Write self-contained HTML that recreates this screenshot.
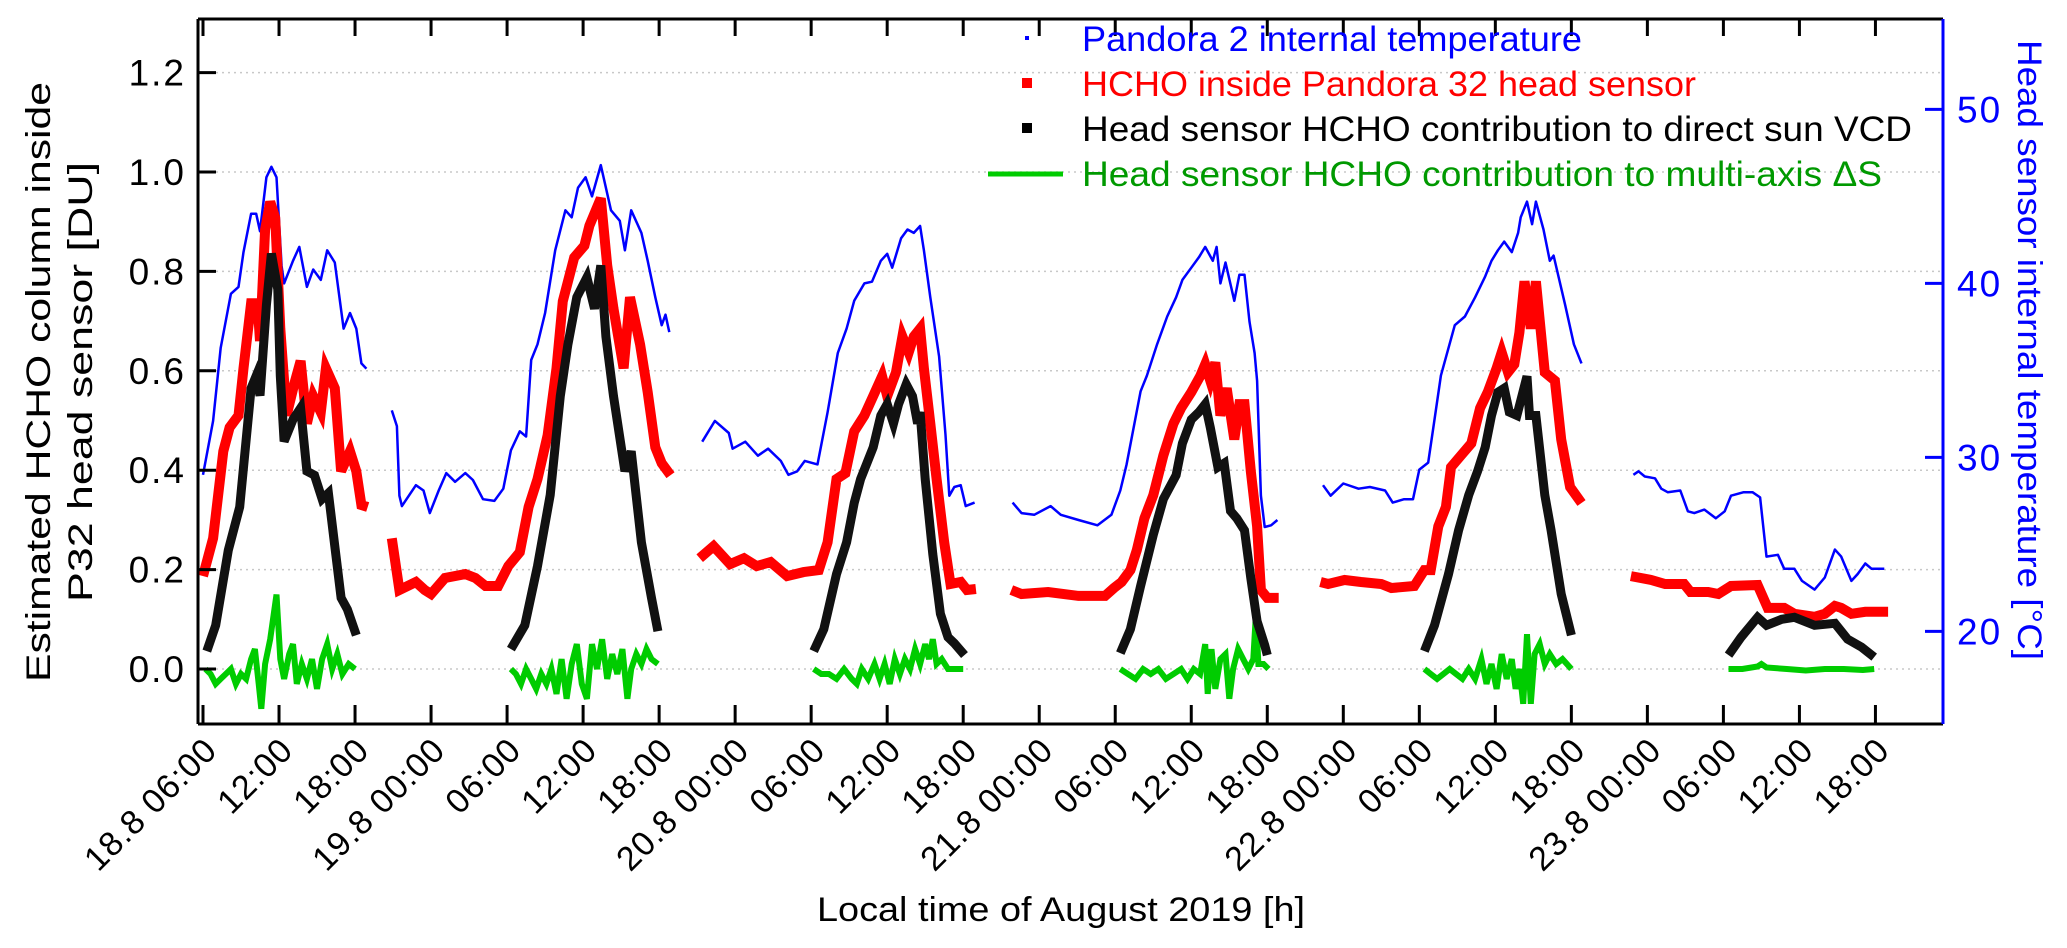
<!DOCTYPE html>
<html><head><meta charset="utf-8">
<style>
html,body{margin:0;padding:0;background:#fff;}
svg{display:block;font-family:"Liberation Sans",sans-serif;}
</style></head>
<body>
<svg id="chart" width="2067" height="948" viewBox="0 0 2067 948" xmlns="http://www.w3.org/2000/svg">
<g id="grid"></g>
<g id="series"></g>
<g id="axes"></g>
<g id="legend">
  <rect x="1025" y="36" width="4" height="4" fill="#0000ff"/>
  <text x="1082" y="51" font-size="35" fill="#0000ff" textLength="500" lengthAdjust="spacingAndGlyphs">Pandora 2 internal temperature</text>
  <rect x="1022" y="78" width="10" height="10" fill="#ff0000"/>
  <text x="1082" y="96" font-size="35" fill="#ff0000" textLength="614" lengthAdjust="spacingAndGlyphs">HCHO inside Pandora 32 head sensor</text>
  <rect x="1022" y="123" width="10" height="10" fill="#000"/>
  <text x="1082" y="141" font-size="35" fill="#000" textLength="830" lengthAdjust="spacingAndGlyphs">Head sensor HCHO contribution to direct sun VCD</text>
  <line x1="988" y1="174" x2="1063" y2="174" stroke="#00cc00" stroke-width="5"/>
  <text x="1082" y="186" font-size="35" fill="#009900" textLength="800" lengthAdjust="spacingAndGlyphs">Head sensor HCHO contribution to multi-axis ΔS</text>
</g>
<text transform="translate(50,382) rotate(-90)" text-anchor="middle" font-size="34" fill="#000" textLength="600" lengthAdjust="spacingAndGlyphs">Estimated HCHO column inside</text>
<text transform="translate(92,382) rotate(-90)" text-anchor="middle" font-size="34" fill="#000" textLength="440" lengthAdjust="spacingAndGlyphs">P32 head sensor [DU]</text>
<text transform="translate(2018,350) rotate(90)" text-anchor="middle" font-size="34" fill="#0000ff" textLength="620" lengthAdjust="spacingAndGlyphs">Head sensor internal temperature [°C]</text>
<text x="1061" y="921" text-anchor="middle" font-size="34" fill="#000" textLength="488" lengthAdjust="spacingAndGlyphs">Local time of August 2019 [h]</text>
</svg>
<script>
// ---- data ----
const leftTicks = [0.0, 0.2, 0.4, 0.6, 0.8, 1.0, 1.2];
const rightTicks = [20, 30, 40, 50];
const xTickHours = [6,12,18,24,30,36,42,48,54,60,66,72,78,84,90,96,102,108,114,120,126,132,138];
const xTickLabels = ["18.8 06:00","12:00","18:00","19.8 00:00","06:00","12:00","18:00","20.8 00:00","06:00","12:00","18:00","21.8 00:00","06:00","12:00","18:00","22.8 00:00","06:00","12:00","18:00","23.8 00:00","06:00","12:00","18:00"];

// temperature (°C); null = data gap
const tempHours = [6,6.8,7.4,8.2,8.8,9.2,9.8,10.2,10.5,11,11.4,11.8,12.2,12.4,13.1,13.6,14.2,14.7,15.3,15.8,16.4,17.1,17.6,18.1,18.5,18.9,null,
20.9,21.3,21.5,21.7,22.8,23.4,23.9,24.6,25.2,25.9,26.7,27.3,28.1,29,29.7,30.3,31,31.5,31.9,32.4,33,33.8,34.6,35.1,35.6,36.2,36.7,37.4,38.2,38.9,39.3,39.8,40.6,41.1,41.7,42.2,42.5,42.8,null,
45.4,46.4,47.5,47.8,48.8,49.8,50.6,51.6,52.2,52.9,53.5,54.5,55.3,56.1,56.8,57.4,58.2,58.8,59.5,60,60.4,61.1,61.6,62.1,62.6,62.9,63.4,64.1,64.6,64.9,65.3,65.8,66.2,66.9,null,
69.9,70.6,71.6,72.9,73.7,75.1,76.6,77.7,78.4,78.9,80,80.5,81.3,82.1,82.8,83.3,84,84.6,85.1,85.7,86,86.3,86.7,87.4,87.8,88.2,88.6,89,89.2,89.5,89.8,90.3,90.8,null,
94.4,95,96,97.2,98.1,99.3,99.9,100.8,101.5,102,102.7,103.1,103.7,104.8,105.6,106.4,107.2,107.7,108.2,108.7,109.3,109.8,110,110.5,110.9,111.2,111.8,112.3,112.6,113.5,114.2,114.8,null,
118.9,119.3,119.8,120.6,121.1,121.6,122.6,123.2,123.7,124.5,125.4,126.1,126.6,127.6,128.3,128.9,129.4,130.3,130.8,131.6,132.2,133.2,134,134.8,135.3,136.1,136.6,137.2,137.7,138.7];
const tempC = [29.0,32.1,36.3,39.4,39.8,41.8,44.0,44.0,43.0,46.1,46.7,46.1,41.0,40.0,41.3,42.1,39.8,40.8,40.2,41.9,41.2,37.4,38.3,37.4,35.4,35.1,null,
32.7,31.8,27.8,27.2,28.4,28.1,26.8,28.1,29.1,28.6,29.1,28.7,27.6,27.5,28.2,30.4,31.5,31.2,35.6,36.5,38.3,41.9,44.2,43.8,45.5,46.1,45.0,46.8,44.2,43.6,41.9,44.2,42.9,41.3,39.2,37.6,38.2,37.2,null,
30.9,32.1,31.4,30.5,30.9,30.1,30.5,29.8,29.0,29.2,29.8,29.6,32.6,36.0,37.4,39.0,40.0,40.1,41.3,41.7,40.9,42.6,43.1,42.9,43.3,41.9,39.2,35.8,31.3,27.8,28.3,28.4,27.2,27.4,null,
27.4,26.8,26.7,27.2,26.7,26.4,26.1,26.7,28.1,29.6,33.8,34.7,36.5,38.1,39.2,40.2,40.9,41.5,42.1,41.3,42.1,40.0,41.2,39.0,40.5,40.5,37.8,36.0,34.4,27.8,26.0,26.1,26.4,null,
28.4,27.8,28.5,28.2,28.3,28.1,27.4,27.6,27.6,29.3,29.7,31.7,34.7,37.6,38.1,39.2,40.4,41.3,41.9,42.4,41.8,42.9,43.8,44.7,43.4,44.7,43.1,41.3,41.6,38.8,36.5,35.4,null,
29.0,29.2,28.9,28.8,28.2,28.0,28.1,26.9,26.8,27.0,26.5,26.9,27.8,28.0,28.0,27.7,24.3,24.4,23.6,23.6,22.9,22.4,23.1,24.7,24.3,22.9,23.3,23.9,23.6,23.6];

// HCHO inside head sensor (DU)
const insideHours = [6,6.8,7.6,8.1,8.8,9.2,9.8,10.3,10.5,10.9,11.3,11.7,12.1,12.6,13.2,13.7,14.2,14.7,15.3,15.7,16.4,16.9,17.6,18.1,18.5,19,null,
20.9,21.5,22.8,23.5,24,25.1,26.7,27.5,28.3,29.3,30.1,31,31.7,32.4,33.2,33.9,34.4,35.3,36.1,36.5,37.4,37.9,38.4,39.2,39.7,40.5,41.1,41.7,42.2,42.9,null,
45.2,46.3,47.6,48.7,49.7,50.8,52.1,53.4,54.6,55.3,56,56.7,57.4,58.2,58.9,59.6,60,60.7,61.2,61.7,62.1,62.6,62.9,63.4,63.9,64.5,65,65.8,66.3,67,null,
69.8,70.6,72.7,75.1,77.2,77.9,78.5,79.2,79.7,80.3,81,81.8,82.6,83.2,84,84.7,85.1,85.5,85.9,86.3,86.8,87.4,87.8,88.2,88.7,89.2,89.5,90,90.9,null,
94.2,94.8,96.1,97.4,99,99.8,101.6,102.4,102.9,103.5,104.1,104.5,105.3,106.1,106.8,107.4,108.1,108.5,109,109.5,109.9,110.3,110.8,111.2,111.9,112.7,113.2,113.9,114.8,null,
118.7,120.3,121.4,122.9,123.4,124.8,125.6,126.6,128.7,129.5,130.8,131.6,133.2,134,134.8,135.3,136.1,137.2,139];
const insideDU = [0.187,0.263,0.438,0.486,0.51,0.605,0.736,0.736,0.66,0.884,0.94,0.908,0.685,0.51,0.573,0.62,0.494,0.549,0.517,0.605,0.565,0.398,0.438,0.398,0.33,0.326,null,
0.263,0.159,0.175,0.159,0.151,0.183,0.191,0.183,0.167,0.167,0.207,0.235,0.326,0.382,0.47,0.605,0.74,0.828,0.852,0.892,0.947,0.812,0.725,0.605,0.748,0.653,0.557,0.446,0.414,0.39,null,
0.223,0.247,0.211,0.223,0.207,0.215,0.187,0.195,0.199,0.255,0.382,0.394,0.478,0.51,0.549,0.589,0.549,0.597,0.669,0.637,0.669,0.685,0.605,0.494,0.382,0.255,0.171,0.175,0.159,0.161,null,
0.159,0.151,0.155,0.147,0.147,0.163,0.175,0.199,0.239,0.303,0.35,0.43,0.494,0.525,0.557,0.589,0.613,0.58,0.617,0.51,0.565,0.462,0.533,0.533,0.398,0.287,0.159,0.143,0.143,null,
0.175,0.171,0.179,0.175,0.171,0.163,0.167,0.199,0.199,0.287,0.326,0.406,0.43,0.454,0.525,0.557,0.605,0.637,0.597,0.613,0.677,0.78,0.685,0.78,0.597,0.58,0.462,0.366,0.334,null,
0.187,0.179,0.171,0.171,0.155,0.155,0.151,0.167,0.169,0.123,0.123,0.111,0.105,0.111,0.127,0.123,0.111,0.115,0.115];

// direct sun VCD contribution (DU)
const directHours = [6.3,7,8,8.9,9.8,10.2,10.5,11,11.4,11.9,12.1,12.4,13.1,13.7,14.2,14.8,15.4,15.9,16.4,16.9,17.4,18.1,null,
30.3,31.4,32.4,33.4,34.2,34.8,35.5,36.3,36.9,37.4,37.8,38.4,39.3,39.8,40.6,41.4,41.9,null,
54.2,55,56,56.8,57.4,57.9,58.4,58.9,59.5,60,60.5,60.9,61.5,62,62.4,62.6,63,63.6,64.2,64.8,65.3,66.1,null,
78.4,79.2,80,81,81.8,82.8,83.3,84,84.6,85.1,85.5,86.1,86.6,87.1,87.6,88.2,88.7,89.2,89.8,90,null,
102.4,103.2,104.3,105.1,105.9,106.6,107.2,107.7,108.2,108.7,109.1,109.7,110.1,110.5,110.7,111.2,111.9,112.4,113.2,114,null,
126.4,127.4,128.7,129.4,130.6,131.6,133.2,134.8,135.8,136.9,137.9];
const directDU = [0.036,0.088,0.239,0.326,0.565,0.59,0.55,0.732,0.836,0.764,0.59,0.458,0.502,0.525,0.398,0.39,0.342,0.354,0.247,0.143,0.12,0.068,null,
0.04,0.088,0.207,0.35,0.549,0.653,0.748,0.788,0.725,0.812,0.669,0.549,0.398,0.438,0.255,0.143,0.076,null,
0.036,0.08,0.191,0.255,0.334,0.382,0.414,0.446,0.51,0.533,0.494,0.533,0.573,0.549,0.494,0.517,0.382,0.231,0.111,0.064,0.052,0.028,null,
0.032,0.08,0.167,0.27,0.342,0.39,0.454,0.502,0.517,0.533,0.486,0.406,0.414,0.318,0.303,0.279,0.183,0.096,0.048,0.028,null,
0.036,0.088,0.191,0.279,0.35,0.398,0.446,0.51,0.557,0.565,0.517,0.51,0.549,0.589,0.51,0.51,0.35,0.279,0.151,0.068,null,
0.028,0.064,0.104,0.088,0.1,0.104,0.088,0.092,0.06,0.044,0.024];

// multi-axis ΔS contribution (DU)
const maxHours = [6.2,6.6,7,7.4,7.8,8.2,8.6,9,9.4,9.8,10.1,10.4,10.6,10.9,11.3,11.8,12.1,12.4,12.8,13.1,13.4,13.8,14.2,14.6,15,15.4,15.8,16.2,16.6,17,17.5,18,null,
30.3,30.7,31.1,31.5,31.9,32.3,32.7,33.1,33.5,33.9,34.3,34.7,35.1,35.5,35.9,36.3,36.7,37.1,37.5,37.9,38.3,38.7,39.1,39.5,39.8,40.2,40.6,41,41.4,41.9,null,
54.2,54.8,55.4,56,56.6,57.2,57.6,58,58.5,59,59.4,59.8,60.2,60.6,61,61.4,61.8,62.2,62.6,63,63.3,63.6,63.9,64.3,64.8,65.3,66,null,
78.4,79,79.6,80.2,80.8,81.4,82,82.6,83.2,83.7,84.2,84.7,85.1,85.3,85.6,85.9,86.3,86.7,87,87.3,87.7,88.1,88.5,88.9,89.1,89.3,89.7,90.1,null,
102.4,102.9,103.4,103.9,104.4,104.9,105.4,105.9,106.4,106.9,107.3,107.7,108.1,108.5,108.9,109.3,109.6,109.9,110.2,110.5,110.8,111.1,111.5,111.9,112.3,112.8,113.3,114,null,
126.4,127.5,128.7,129,129.4,131,132.5,134,135.5,137,137.9];
const maxDU = [0,-0.01,-0.03,-0.02,-0.01,0,-0.03,-0.01,-0.02,0.02,0.04,-0.03,-0.08,0.01,0.06,0.15,0.02,-0.02,0.03,0.05,-0.03,0.01,-0.02,0.02,-0.04,0.02,0.05,0,0.03,-0.01,0.01,0,null,
0,-0.01,-0.03,0,-0.02,-0.04,-0.01,-0.03,0,-0.05,0.02,-0.06,0.01,0.05,-0.03,-0.06,0.05,0,0.06,-0.02,0.03,-0.01,0.04,-0.06,0,0.03,0.01,0.04,0.02,0.01,null,
0,-0.01,-0.01,-0.02,0,-0.02,-0.03,0,-0.02,0.01,-0.02,0.01,-0.03,0.02,-0.01,0.02,0,0.04,0.01,0.05,0.02,0.06,0.01,0.02,0,0,0,null,
0,-0.01,-0.02,0,-0.01,0,-0.02,-0.01,0,-0.02,0,-0.01,0.05,-0.05,0.04,-0.04,0.02,0.03,-0.06,0,0.04,0.02,0,0.02,0.11,0.01,0.01,0,null,
0,-0.01,-0.02,-0.01,0,-0.01,-0.02,0,-0.02,0.02,-0.03,0.01,-0.04,0.03,-0.02,0.02,-0.04,0,-0.07,0.07,-0.07,0.03,0.05,0.01,0.03,0.01,0.02,0,null,
0,0,0.005,0.01,0.003,0,-0.003,0,0,-0.002,0];

// ---- scales ----
const PL = 198, PR = 1943, PT = 19, PB = 724;
const NS = "http://www.w3.org/2000/svg";
function xS(h){ return 203 + (h - 6) * 12.67; }
function yL(v){ return 669 - v * 497; }
function yR(t){ return 631.4 - (t - 20) * 17.4; }
function mk(tag, attrs, parent){
  const e = document.createElementNS(NS, tag);
  for (const k in attrs) e.setAttribute(k, attrs[k]);
  parent.appendChild(e);
  return e;
}
const grid = document.getElementById('grid');
const axes = document.getElementById('axes');
const series = document.getElementById('series');

leftTicks.forEach(v => {
  const y = yL(v);
  const g = mk('line', {x1:PL, x2:PR, y1:y, y2:y, stroke:'#c8c8c8', 'stroke-width':1.5, 'stroke-dasharray':'2 4'}, grid);
  
  
  const t = mk('line', {x1:PL, x2:PL+18, y1:y, y2:y, stroke:'#000', 'stroke-width':3}, axes);
  
  
  const l = mk('text', {x:PL-12, y:y+13, 'text-anchor':'end', 'font-size':37, 'letter-spacing':2, fill:'#000'}, axes);
  l.textContent = v.toFixed(1);
  
  
});
rightTicks.forEach(v => {
  const y = yR(v);
  const t = mk('line', {x1:PR-18, x2:PR, y1:y, y2:y, stroke:'#0000ff', 'stroke-width':3}, axes);
  
  
  const l = mk('text', {x:PR+14, y:y+13, 'text-anchor':'start', 'font-size':37, 'letter-spacing':2, fill:'#0000ff'}, axes);
  l.textContent = String(v);
  
  
});
xTickHours.forEach((h, i) => {
  const x = xS(h);
  const t = mk('line', {x1:x, x2:x, y1:PB, y2:PB-19, stroke:'#000', 'stroke-width':3}, axes);
  
  
  const t2 = mk('line', {x1:x, x2:x, y1:PT, y2:PT+17, stroke:'#000', 'stroke-width':3}, axes);
  
  
  const l = mk('text', {transform:'translate(' + (x + 16) + ',' + (PB + 28) + ') rotate(-45)', 'text-anchor':'end', 'font-size':34, 'letter-spacing':1, fill:'#000'}, axes);
  l.textContent = xTickLabels[i];
  
  
});
const fl = mk('line', {x1:PL, x2:PL, y1:PT, y2:PB, stroke:'#000', 'stroke-width':3}, axes);


const fb = mk('line', {x1:PL, x2:PR, y1:PB, y2:PB, stroke:'#000', 'stroke-width':3}, axes);


const ft = mk('line', {x1:PL, x2:PR, y1:PT, y2:PT, stroke:'#000', 'stroke-width':3}, axes);


const fr = mk('line', {x1:PR, x2:PR, y1:PT, y2:PB, stroke:'#0000ff', 'stroke-width':3}, axes);



function pathFrom(hours, vals, yf){
  let d = '', pen = false;
  for (let i = 0; i < hours.length; i++){
    if (hours[i] === null || vals[i] === null){ pen = false; continue; }
    d += (pen ? 'L' : 'M') + xS(hours[i]).toFixed(1) + ' ' + yf(vals[i]).toFixed(1);
    pen = true;
  }
  return d;
}
const pGreen = mk('path', {d:pathFrom(maxHours, maxDU, yL), fill:'none', stroke:'#00cc00', 'stroke-width':6, 'stroke-linejoin':'miter'}, series);


const pBlue = mk('path', {d:pathFrom(tempHours, tempC, yR), fill:'none', stroke:'#0000ff', 'stroke-width':2.5, 'stroke-linejoin':'round'}, series);


const pRed = mk('path', {d:pathFrom(insideHours, insideDU, yL), fill:'none', stroke:'#ff0000', 'stroke-width':10, 'stroke-linejoin':'miter'}, series);


const pBlack = mk('path', {d:pathFrom(directHours, directDU, yL), fill:'none', stroke:'#111', 'stroke-width':9, 'stroke-linejoin':'miter'}, series);


</script>
</body></html>
